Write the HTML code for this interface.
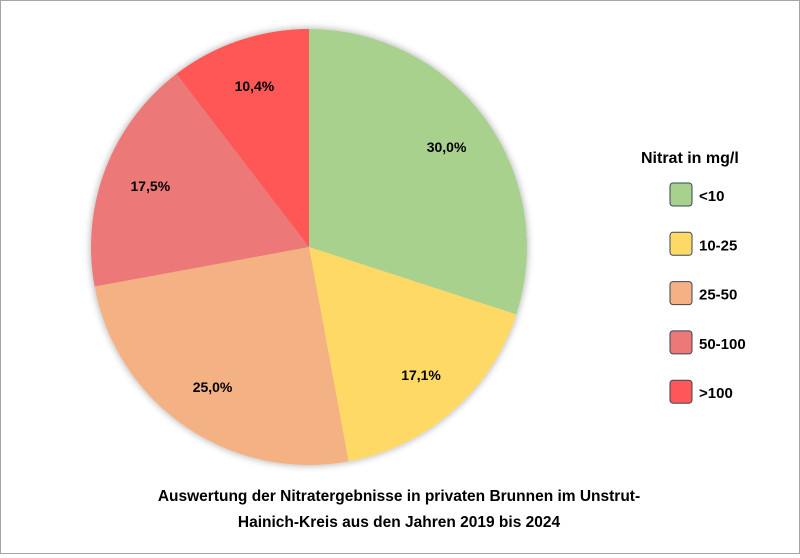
<!DOCTYPE html>
<html><head><meta charset="utf-8"><style>
body{margin:0;background:#fff;font-family:"Liberation Sans",Arial,sans-serif}
#wrap{position:relative;width:798px;height:552px;border:1px solid #a6a6a6;background:#fff}
</style></head><body>
<div id="wrap">
<svg id="chart" width="798" height="552">
<defs><filter id="sh" x="-10%" y="-10%" width="120%" height="120%"><feGaussianBlur in="SourceAlpha" stdDeviation="4"/><feOffset dx="0" dy="0"/><feComponentTransfer><feFuncA type="linear" slope="0.35"/></feComponentTransfer><feMerge><feMergeNode/><feMergeNode in="SourceGraphic"/></feMerge></filter></defs>
<g id="slices" filter="url(#sh)"></g>
<g id="labels"></g>
<g id="legend"></g>
<text x="398" y="500" text-anchor="middle" font-size="15.5" font-weight="bold" fill="#000">Auswertung der Nitratergebnisse in privaten Brunnen im Unstrut-</text>
<text x="398" y="526" text-anchor="middle" font-size="15.5" font-weight="bold" fill="#000">Hainich-Kreis  aus den Jahren 2019 bis 2024</text>
</svg>
</div>
<script>
const categories=["<10","10-25","25-50","50-100",">100"];
const values=[30.0,17.1,25.0,17.5,10.4];
const valueLabels=["30,0%","17,1%","25,0%","17,5%","10,4%"];
const colors=["#a9d18e","#ffd966","#f4b183","#ec7878","#ff5757"];
const NS="http://www.w3.org/2000/svg";
const cx=308,cy=246,r=218;
const total=values.reduce((a,b)=>a+b,0);
const gS=document.getElementById('slices'),gL=document.getElementById('labels'),gG=document.getElementById('legend');
function pt(a,rr){return [cx+rr*Math.sin(a),cy-rr*Math.cos(a)];}
let a0=0;
values.forEach((v,i)=>{
 const a1=a0+v/total*2*Math.PI;
 const p0=pt(a0,r),p1=pt(a1,r);
 const p=document.createElementNS(NS,'path');
 p.setAttribute('d',`M${cx},${cy} L${p0[0]},${p0[1]} A${r},${r} 0 ${a1-a0>Math.PI?1:0} 1 ${p1[0]},${p1[1]} Z`);
 p.setAttribute('fill',colors[i]);
 
 
 gS.appendChild(p);
 const am=(a0+a1)/2,lp=pt(am,r*0.78);
 const t=document.createElementNS(NS,'text');
 t.setAttribute('x',lp[0]);t.setAttribute('y',lp[1]+5);
 t.setAttribute('text-anchor','middle');t.setAttribute('font-size','14');t.setAttribute('font-weight','bold');
 t.textContent=valueLabels[i];
 
 
 gL.appendChild(t);
 a0=a1;
});
const lt=document.createElementNS(NS,'text');
lt.setAttribute('x',640);lt.setAttribute('y',162);lt.setAttribute('font-size','16');lt.setAttribute('font-weight','bold');
lt.textContent='Nitrat in mg/l';


gG.appendChild(lt);
categories.forEach((c,i)=>{
 const y=182+i*49.3;
 const rc=document.createElementNS(NS,'rect');
 rc.setAttribute('x',669);rc.setAttribute('y',y);rc.setAttribute('width',22);rc.setAttribute('height',23);
 rc.setAttribute('rx',3);rc.setAttribute('fill',colors[i]);rc.setAttribute('stroke','#3a4656');rc.setAttribute('stroke-width','1');
 
 
 gG.appendChild(rc);
 const t=document.createElementNS(NS,'text');
 t.setAttribute('x',698);t.setAttribute('y',y+18);t.setAttribute('font-size','15');t.setAttribute('font-weight','bold');
 t.textContent=c;
 
 
 gG.appendChild(t);
});
</script>
</body></html>
